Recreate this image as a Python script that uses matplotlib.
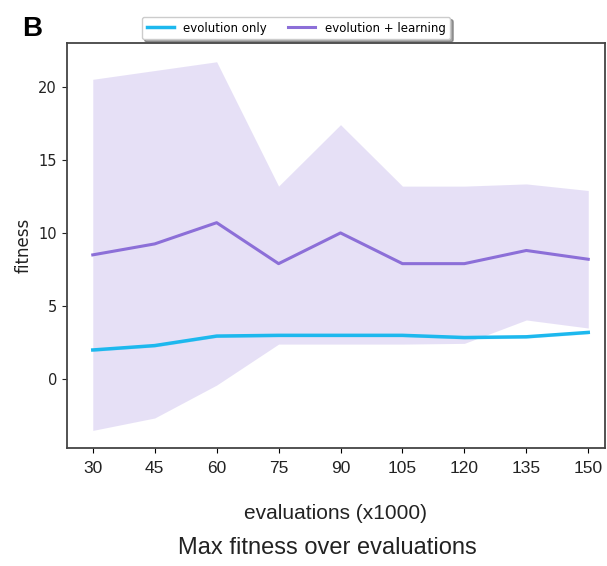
import matplotlib
matplotlib.use("Agg")
import matplotlib.pyplot as plt

evals = [30, 45, 60, 75, 90, 105, 120, 135, 150]
evo_mean = [2.0, 2.3, 2.95, 3.0, 3.0, 3.0, 2.85, 2.9, 3.2]
evo_low = [1.9, 2.2, 2.85, 2.9, 2.9, 2.9, 2.75, 2.8, 3.1]
evo_high = [2.1, 2.4, 3.05, 3.1, 3.1, 3.1, 2.95, 3.0, 3.3]
learn_mean = [8.5, 9.25, 10.7, 7.9, 10.0, 7.9, 7.9, 8.8, 8.2]
learn_high = [20.5, 21.1, 21.7, 13.2, 17.4, 13.2, 13.2, 13.35, 12.9]
learn_low = [-3.5, -2.65, -0.4, 2.4, 2.4, 2.4, 2.45, 4.05, 3.5]
xticks = [30, 45, 60, 75, 90, 105, 120, 135, 150]
yticks = [0, 5, 10, 15, 20]

blue = "#1db8ee"
purple = "#8c6fd8"

fig = plt.figure(figsize=(6.07, 5.66), dpi=100)
ax = fig.add_axes([0.110, 0.2085, 0.887, 0.716])

ax.fill_between(evals, learn_low, learn_high, color=purple, alpha=0.21, linewidth=0)
ax.fill_between(evals, evo_low, evo_high, color=blue, alpha=0.2, linewidth=0)
ax.plot(evals, evo_mean, color=blue, lw=2.5, label="evolution only")
ax.plot(evals, learn_mean, color=purple, lw=2.2, label="evolution + learning")

ax.set_xlim(23.7, 154.1)
ax.set_ylim(-4.7, 23.0)
ax.set_xticks(xticks)
ax.set_yticks(yticks)
ax.set_xticklabels([str(v) for v in xticks], family="Liberation Sans", fontsize=12.5, color="#222222")
ax.tick_params(axis="y", labelsize=10.5, colors="#222222")
ax.tick_params(axis="x", pad=6)
for s in ax.spines.values():
    s.set_color("#444444")
    s.set_linewidth(1.3)

ax.set_ylabel("fitness", fontsize=12, color="#222222")
ax.set_xlabel("evaluations (x1000)", family="Liberation Sans", fontsize=15, labelpad=20, color="#222222")
fig.text(0.54, 0.032, "Max fitness over evaluations", family="Liberation Sans",
         fontsize=17, ha="center", va="center", color="#222222")
fig.text(0.036, 0.948, "B", fontsize=20, fontweight="bold", ha="left", va="center",
         family="Liberation Sans")

leg = ax.legend(loc="lower center", bbox_to_anchor=(0.426, 0.994), ncol=2, fontsize=8.5,
                frameon=True, shadow=True, borderpad=0.4, handlelength=2.3,
                columnspacing=1.8, fancybox=True)

fig.savefig("out.png", dpi=100)
